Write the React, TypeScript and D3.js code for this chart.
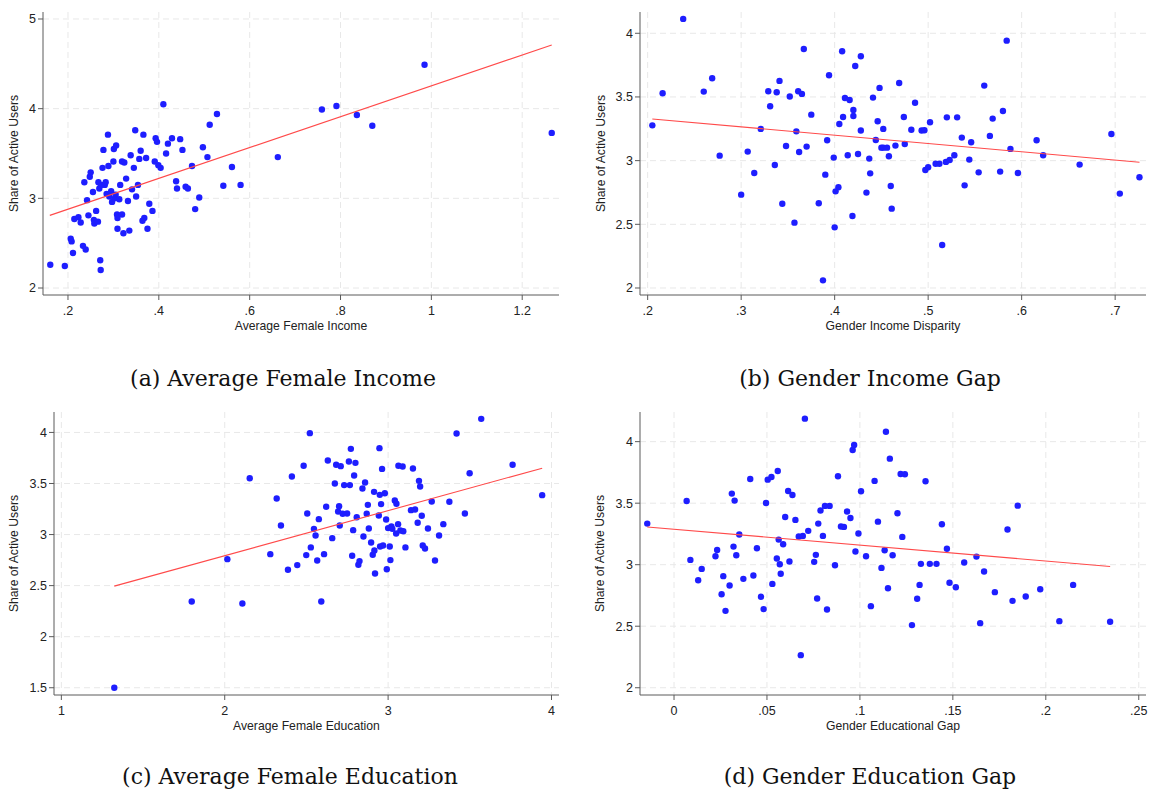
import React from "react";
import * as d3 from "d3";

// ---------- DATA ----------
const yLabel = "Share of Active Users";

// (a) Average Female Income
const incomeX = [0.161,0.193,0.206,0.208,0.211,0.214,0.223,0.228,0.233,0.236,0.239,0.242,0.245,0.248,0.250,0.255,0.257,0.258,0.262,0.266,0.267,0.269,0.271,0.272,0.273,0.276,0.278,0.281,0.283,0.285,0.288,0.289,0.291,0.295,0.297,0.300,0.301,0.303,0.306,0.305,0.308,0.309,0.309,0.313,0.315,0.319,0.319,0.322,0.324,0.328,0.332,0.335,0.338,0.341,0.345,0.348,0.350,0.354,0.357,0.360,0.364,0.366,0.368,0.372,0.375,0.379,0.386,0.391,0.393,0.396,0.399,0.404,0.410,0.416,0.420,0.429,0.438,0.440,0.447,0.452,0.459,0.464,0.473,0.480,0.489,0.497,0.507,0.512,0.528,0.542,0.561,0.580,0.662,0.759,0.791,0.836,0.870,0.985,1.265];
const incomeY = [2.26,2.245,2.55,2.52,2.39,2.77,2.79,2.73,2.47,3.18,2.43,2.98,2.81,3.24,3.29,3.07,2.76,2.72,2.86,2.74,3.18,3.11,2.31,2.20,3.15,3.34,3.54,3.15,3.18,3.05,3.71,3.36,3.02,3.08,2.96,3.41,3.55,3.00,3.59,3.04,2.82,2.66,2.78,2.99,3.15,2.82,3.41,2.61,3.40,3.22,2.97,2.64,3.48,3.10,3.34,3.76,3.02,3.15,3.44,3.53,2.75,3.71,2.78,3.45,2.66,2.94,2.86,3.41,3.67,3.63,3.37,3.34,4.05,3.50,3.61,3.67,3.19,3.11,3.66,3.54,3.13,3.11,3.36,2.88,3.01,3.57,3.46,3.82,3.94,3.14,3.35,3.15,3.46,3.99,4.03,3.93,3.81,4.49,3.73];
const incomeFitX = [0.16, 1.265];
const incomeFitY = [2.81, 4.71];
const incomeXTicks = [0.2, 0.4, 0.6, 0.8, 1, 1.2];
const incomeYTicks = [2, 3, 4, 5];

// (b) Gender Income Gap
const incGapX = [0.205,0.216,0.238,0.260,0.269,0.277,0.300,0.307,0.314,0.321,0.329,0.331,0.336,0.338,0.341,0.344,0.348,0.352,0.357,0.359,0.361,0.362,0.365,0.367,0.370,0.375,0.383,0.390,0.392,0.394,0.399,0.400,0.401,0.404,0.405,0.408,0.409,0.411,0.414,0.416,0.419,0.420,0.420,0.422,0.425,0.428,0.428,0.434,0.437,0.438,0.3875,0.441,0.444,0.446,0.448,0.450,0.452,0.452,0.456,0.458,0.460,0.461,0.465,0.469,0.474,0.475,0.482,0.486,0.493,0.496,0.497,0.500,0.502,0.508,0.512,0.515,0.519,0.520,0.523,0.528,0.531,0.536,0.539,0.544,0.546,0.554,0.560,0.566,0.569,0.577,0.580,0.584,0.588,0.596,0.616,0.623,0.662,0.696,0.705,0.726];
const incGapY = [3.277,3.529,4.113,3.542,3.647,3.039,2.733,3.071,2.903,3.249,3.545,3.427,2.966,3.537,3.626,2.662,3.115,3.503,2.513,3.230,3.545,3.068,3.524,3.877,3.110,3.361,2.665,2.890,3.160,3.670,3.024,2.476,2.759,2.791,3.288,3.859,3.343,3.492,3.042,3.476,2.565,3.351,3.398,3.743,3.052,3.819,3.236,2.749,3.016,2.900,2.06,3.495,3.162,3.309,3.571,3.102,3.102,3.249,3.102,3.034,2.801,2.623,3.118,3.610,3.343,3.131,3.243,3.455,3.236,3.238,2.927,2.948,3.301,2.976,2.976,2.338,2.990,3.340,3.005,3.042,3.340,3.181,2.806,3.008,3.144,2.908,3.589,3.194,3.330,2.914,3.390,3.942,3.092,2.903,3.160,3.042,2.969,3.209,2.741,2.869];
const incGapFitX = [0.205, 0.726];
const incGapFitY = [3.327, 2.987];
const incGapXTicks = [0.2, 0.3, 0.4, 0.5, 0.6, 0.7];
const incGapYTicks = [2, 2.5, 3, 3.5, 4];

// (c) Average Female Education
const eduX = [1.324,1.798,2.016,2.108,2.153,2.279,2.318,2.344,2.387,2.411,2.444,2.483,2.499,2.505,2.521,2.527,2.546,2.556,2.566,2.576,2.591,2.608,2.621,2.631,2.658,2.674,2.682,2.694,2.700,2.704,2.710,2.722,2.731,2.749,2.760,2.766,2.772,2.780,2.786,2.792,2.800,2.808,2.818,2.825,2.843,2.849,2.859,2.869,2.876,2.882,2.896,2.906,2.914,2.916,2.920,2.943,2.947,2.949,2.951,2.957,2.963,2.969,2.980,2.988,2.992,3.000,3.010,3.014,3.020,3.026,3.041,3.051,3.049,3.061,3.063,3.075,3.089,3.093,3.106,3.140,3.152,3.165,3.181,3.189,3.196,3.206,3.212,3.226,3.244,3.267,3.287,3.312,3.338,3.375,3.419,3.470,3.499,3.570,3.762,3.943];
const eduY = [1.5,2.345,2.759,2.325,3.552,2.808,3.353,3.089,2.655,3.569,2.701,3.673,2.799,3.206,3.993,2.874,3.056,2.991,2.746,3.151,2.345,2.808,3.272,3.725,2.965,3.500,3.683,3.226,3.278,3.089,3.670,3.203,3.484,3.206,3.715,3.484,3.839,2.792,3.043,3.578,3.702,3.170,2.704,2.740,3.451,2.981,3.510,3.203,3.291,3.060,2.922,2.802,3.418,2.844,2.619,3.187,3.846,3.389,2.883,3.298,3.643,2.893,3.405,3.148,2.661,3.063,2.883,2.750,3.080,3.056,3.334,3.301,3.011,3.102,3.673,3.040,3.666,3.033,2.874,3.239,3.647,3.245,3.115,3.526,3.471,3.184,2.893,2.864,3.060,3.324,2.746,2.991,3.102,3.321,3.989,3.206,3.601,4.133,3.683,3.386];
const eduFitX = [1.324, 3.943];
const eduFitY = [2.495, 3.650];
const eduXTicks = [1, 2, 3, 4];
const eduYTicks = [1.5, 2, 2.5, 3, 3.5, 4];

// (d) Gender Education Gap
const eduGapX = [-0.0144,0.0068,0.0088,0.0130,0.0149,0.0223,0.0232,0.0256,0.0265,0.0277,0.0299,0.0311,0.0320,0.0326,0.0335,0.0351,0.0373,0.0410,0.0427,0.0446,0.0468,0.0482,0.0495,0.0504,0.0524,0.0529,0.0553,0.0558,0.0563,0.0569,0.0574,0.0587,0.0598,0.0614,0.0621,0.0637,0.0653,0.0671,0.0682,0.0693,0.0704,0.0722,0.0754,0.0763,0.0770,0.0776,0.0788,0.0801,0.0812,0.0823,0.0837,0.0866,0.0882,0.0898,0.0914,0.0931,0.0949,0.0961,0.0969,0.0976,0.0992,0.1006,0.1033,0.1059,0.1079,0.1097,0.1116,0.1133,0.1140,0.1151,0.1161,0.1176,0.1202,0.1219,0.1228,0.1242,0.1280,0.1308,0.1321,0.1328,0.1353,0.1376,0.1412,0.1441,0.1468,0.1482,0.1516,0.1561,0.1627,0.1647,0.1668,0.1726,0.1794,0.1821,0.1849,0.1892,0.1970,0.2073,0.2147,0.2346];
const eduGapY = [3.334,3.518,3.039,2.874,2.966,3.069,3.120,2.760,2.907,2.625,2.831,3.578,3.147,3.521,3.077,3.245,2.885,3.697,2.912,3.134,2.739,2.639,3.502,3.691,3.713,2.844,3.050,3.762,3.204,3.004,2.926,3.166,3.388,3.599,3.026,3.567,3.364,3.229,2.265,3.234,4.187,3.275,3.023,3.080,2.725,3.334,3.440,3.234,3.478,2.636,3.478,2.996,3.719,3.310,3.307,3.432,3.380,3.932,3.973,3.107,3.253,3.597,3.069,2.663,3.681,3.350,2.974,3.118,4.081,2.809,3.862,3.077,3.418,3.737,3.226,3.735,2.509,2.723,2.836,3.007,3.678,3.007,3.007,3.329,3.129,2.853,2.817,3.018,3.066,2.525,2.945,2.777,3.286,2.706,3.480,2.742,2.801,2.541,2.836,2.536];
const eduGapFitX = [-0.0144, 0.2346];
const eduGapFitY = [3.307, 2.985];
const eduGapXTicks = [0, 0.05, 0.1, 0.15, 0.2, 0.25];
const eduGapYTicks = [2, 2.5, 3, 3.5, 4];

// ---------- LAYOUT ----------
const W = 1151;
const H = 793;
const fmt = (v: number) => {
  const s = String(v);
  if (s.startsWith("0.")) return s.slice(1);
  if (s.startsWith("-0.")) return "-" + s.slice(2);
  return s;
};

type PanelProps = {
  left: number; right: number; top: number; bottom: number;
  xDomain: [number, number]; yDomain: [number, number];
  xs: number[]; ys: number[]; fitX: number[]; fitY: number[];
  xTicks: number[]; yTicks: number[];
  xTitle: string; yLabelOffset: number;
  caption: string; captionX: number; captionY: number;
};

const axisColor = "#5a5a5a";
const gridColor = "#e8e8e8";
const dotColor = "#1e1eff";
const fitColor = "#ff4a4a";
const sans = "'Liberation Sans', Arial, Helvetica, sans-serif";
const serif = "'DejaVu Serif', 'Liberation Serif', serif";

function Panel(p: PanelProps) {
  const x = d3.scaleLinear().domain(p.xDomain).range([p.left, p.right]);
  const y = d3.scaleLinear().domain(p.yDomain).range([p.bottom, p.top]);
  const pts = p.xs.map((v, i) => [v, p.ys[i]] as [number, number]);
  const line = d3.line<[number, number]>().x(d => x(d[0])).y(d => y(d[1]));
  const fit = p.fitX.map((v, i) => [v, p.fitY[i]] as [number, number]);
  const cx = (p.left + p.right) / 2;
  const cy = (p.top + p.bottom) / 2;
  return (
    <g>
      {p.yTicks.map(t => (
        <line key={"gy" + t} x1={p.left} x2={p.right} y1={y(t)} y2={y(t)}
          stroke={gridColor} strokeWidth={1} strokeDasharray="6,4" />
      ))}
      {p.xTicks.map(t => (
        <line key={"gx" + t} x1={x(t)} x2={x(t)} y1={p.top} y2={p.bottom}
          stroke={gridColor} strokeWidth={1} strokeDasharray="6,4" />
      ))}
      {pts.map((d, i) => (
        <circle key={"p" + i} cx={x(d[0])} cy={y(d[1])} r={3.2} fill={dotColor} />
      ))}
      <path d={line(fit) || ""} stroke={fitColor} strokeWidth={1.1} fill="none" />
      <line x1={p.left} x2={p.left} y1={p.top} y2={p.bottom} stroke={axisColor} strokeWidth={1} />
      <line x1={p.left} x2={p.right} y1={p.bottom} y2={p.bottom} stroke={axisColor} strokeWidth={1} />
      {p.yTicks.map(t => (
        <g key={"ty" + t}>
          <line x1={p.left - 5} x2={p.left} y1={y(t)} y2={y(t)} stroke={axisColor} />
          <text x={p.left - 7} y={y(t)} dy="0.35em" textAnchor="end" fontSize={12.5}
            fontFamily={sans} fill="#222">{fmt(t)}</text>
        </g>
      ))}
      {p.xTicks.map(t => (
        <g key={"tx" + t}>
          <line x1={x(t)} x2={x(t)} y1={p.bottom} y2={p.bottom + 5} stroke={axisColor} />
          <text x={x(t)} y={p.bottom + 20} textAnchor="middle" fontSize={12.5}
            fontFamily={sans} fill="#222">{fmt(t)}</text>
        </g>
      ))}
      <text x={cx} y={p.bottom + 35} textAnchor="middle" fontSize={12.2} fontFamily={sans} fill="#222">{p.xTitle}</text>
      <text transform={`translate(${p.left - p.yLabelOffset},${cy}) rotate(-90)`} textAnchor="middle"
        fontSize={12.2} fontFamily={sans} fill="#222">{yLabel}</text>
      <text x={p.captionX} y={p.captionY} textAnchor="middle" fontSize={22} fontFamily={serif} fill="#111">{p.caption}</text>
    </g>
  );
}

export default function App() {
  return (
    <svg width={W} height={H} style={{ position: "absolute", left: 0, top: 0, background: "#fff" }}>
      <rect x={0} y={0} width={W} height={H} fill="#fff" />
      <Panel left={43} right={559} top={12} bottom={295}
        xDomain={[0.145, 1.281]} yDomain={[1.922, 5.078]}
        xs={incomeX} ys={incomeY} fitX={incomeFitX} fitY={incomeFitY}
        xTicks={incomeXTicks} yTicks={incomeYTicks}
        xTitle="Average Female Income" yLabelOffset={25}
        caption="(a) Average Female Income" captionX={283} captionY={386} />
      <Panel left={640} right={1146} top={12} bottom={295}
        xDomain={[0.1918, 0.733]} yDomain={[1.945, 4.167]}
        xs={incGapX} ys={incGapY} fitX={incGapFitX} fitY={incGapFitY}
        xTicks={incGapXTicks} yTicks={incGapYTicks}
        xTitle="Gender Income Disparity" yLabelOffset={35}
        caption="(b) Gender Income Gap" captionX={870} captionY={386} />
      <Panel left={54} right={559} top={412} bottom={695}
        xDomain={[0.955, 4.046]} yDomain={[1.429, 4.2]}
        xs={eduX} ys={eduY} fitX={eduFitX} fitY={eduFitY}
        xTicks={eduXTicks} yTicks={eduYTicks}
        xTitle="Average Female Education" yLabelOffset={36}
        caption="(c) Average Female Education" captionX={290} captionY={784} />
      <Panel left={640} right={1146} top={412} bottom={695}
        xDomain={[-0.0183, 0.2539]} yDomain={[1.941, 4.241]}
        xs={eduGapX} ys={eduGapY} fitX={eduGapFitX} fitY={eduGapFitY}
        xTicks={eduGapXTicks} yTicks={eduGapYTicks}
        xTitle="Gender Educational Gap" yLabelOffset={36}
        caption="(d) Gender Education Gap" captionX={870} captionY={784} />
    </svg>
  );
}
